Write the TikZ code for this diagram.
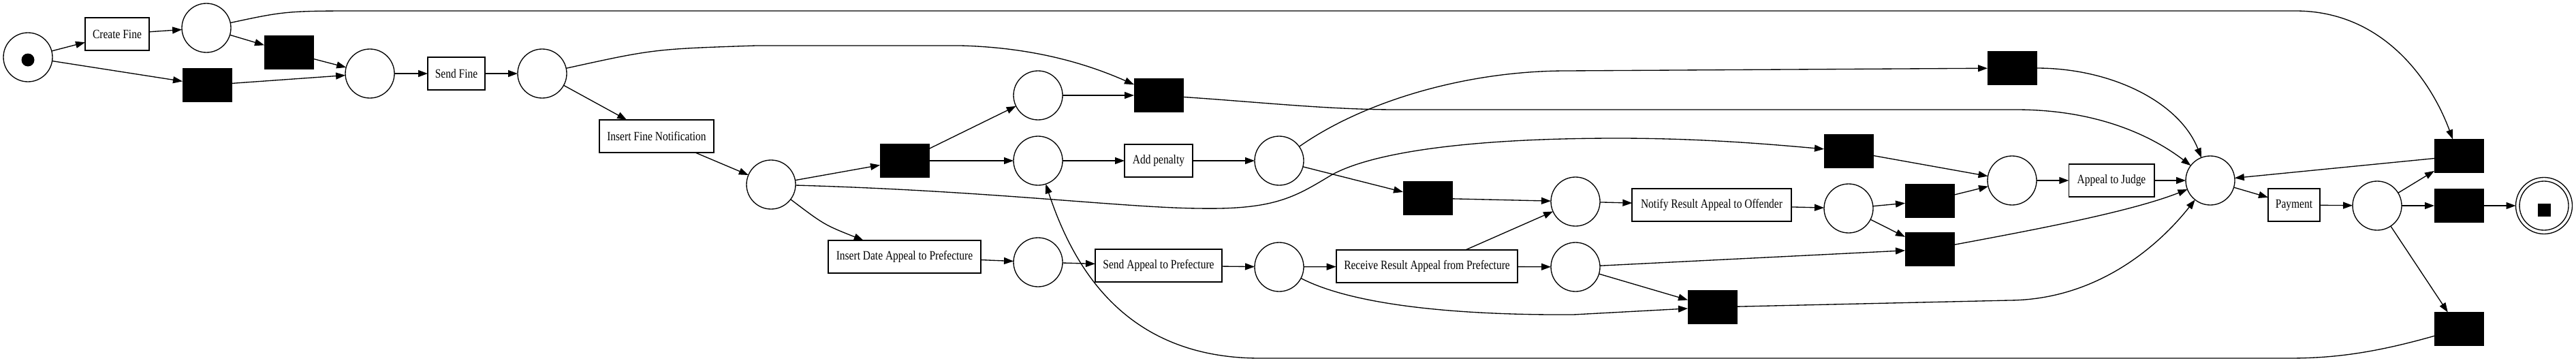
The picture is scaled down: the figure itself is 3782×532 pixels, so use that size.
\documentclass[tikz,border=0pt]{standalone}
\usepackage{fontspec}
\setmainfont{Liberation Serif}[FakeStretch=0.83]
\usetikzlibrary{arrows.meta}
\tikzset{
  place/.style={circle, draw, line width=1pt, minimum size=54pt, inner sep=0pt, outer sep=0pt},
  token/.style={circle, fill=black, minimum size=14.25pt, inner sep=0pt},
  trans/.style={rectangle, fill=black, draw=black, line width=0.5pt, minimum width=54pt, minimum height=36.75pt, inner sep=0pt, outer sep=0pt},
  task/.style={rectangle, draw, line width=1.3pt, minimum height=36pt, inner sep=0pt, outer sep=0pt, font=\fontsize{14}{16}\selectfont},
  arc/.style={-{Triangle[length=10.5pt,width=7.5pt]}, line width=1pt},
}
\begin{document}
\begin{tikzpicture}[x=0.75pt, y=-0.75pt]
\useasboundingbox (0,0) rectangle (3782,532);
% nodes
\node[place] (p0) at (41,84) {};
\node[token] (tok) at (41,88) {};
\node[task, minimum width=70.5pt] (cf) at (172,50) {Create Fine};
\node[place] (p1) at (303,41) {};
\node[trans] (ts1) at (424,77) {};
\node[trans] (ts2) at (304,125) {};
\node[place] (p2) at (543,108) {};
\node[task, minimum width=63pt] (sf) at (670,108) {Send Fine};
\node[place] (p3) at (796,108) {};
\node[task, minimum width=126pt] (ifn) at (964,200) {Insert Fine Notification};
\node[place] (p4) at (1132,271) {};
\node[trans] (t3) at (1328,236) {};
\node[place] (p5) at (1524,140) {};
\node[place] (p6) at (1524,236) {};
\node[trans] (t4) at (1701,140) {};
\node[task, minimum width=75pt] (ap) at (1701,236) {Add penalty};
\node[task, minimum width=168pt] (ida) at (1328,377) {Insert Date Appeal to Prefecture};
\node[place] (p7) at (1524,385) {};
\node[task, minimum width=139.5pt] (sap) at (1701,390) {Send Appeal to Prefecture};
\node[place] (p8) at (1878,236) {};
\node[place] (p9) at (1878,392) {};
\node[trans] (t5) at (2096,291) {};
\node[task, minimum width=200pt] (rra) at (2095,391) {Receive Result Appeal from Prefecture};
\node[place] (p10) at (2313,296) {};
\node[place] (p11) at (2313,392) {};
\node[task, minimum width=175pt] (nra) at (2513,301) {Notify Result Appeal to Offender};
\node[place] (p12) at (2714,306) {};
\node[trans] (t6) at (2714,222) {};
\node[trans] (t7) at (2514,451) {};
\node[trans] (t8) at (2954,100) {};
\node[place] (p13) at (2954,265) {};
\node[trans] (t9) at (2833,295) {};
\node[trans] (t10) at (2833,366) {};
\node[task, minimum width=94pt] (aj) at (3100,265) {Appeal to Judge};
\node[place] (p14) at (3245,265) {};
\node[task, minimum width=57pt] (pay) at (3368,301) {Payment};
\node[place] (p15) at (3490,302) {};
\node[trans] (t11) at (3610,229) {};
\node[trans] (t12) at (3610,302) {};
\node[trans] (t13) at (3610,483) {};
\node[place, minimum size=62.25pt] (pf) at (3735,302) {};
\node[place] (pfi) at (3735,302) {};
\node[rectangle, fill=black, minimum size=14.25pt, inner sep=0pt] (pfs) at (3735,308) {};
% arcs
\draw[arc] (p0) -- (cf);
\draw[arc] (p0) -- (ts2);
\draw[arc] (cf) -- (p1);
\draw[arc] (p1) -- (ts1);
\draw[arc] (p1) .. controls (420,16) .. (540,16) -- (3370,16) .. controls (3500,16) and (3570,120) .. (t11);
\draw[arc] (ts1) -- (p2);
\draw[arc] (ts2) -- (p2);
\draw[arc] (p2) -- (sf);
\draw[arc] (sf) -- (p3);
\draw[arc] (p3) -- (ifn);
\draw[arc] (p3) .. controls (960,72) .. (1110,67) -- (1410,67) .. controls (1530,70) and (1610,100) .. (t4);
\draw[arc] (ifn) -- (p4);
\draw[arc] (p4) -- (t3);
\draw[arc] (p4) .. controls (1210,330) .. (ida);
\draw[arc] (p4) .. controls (1450,280) and (1650,305) .. (1760,306) .. controls (1870,308) and (1900,290) .. (1953,258) .. controls (2010,225) and (2150,203) .. (2374,203) .. controls (2500,203) and (2600,212) .. (t6);
\draw[arc] (t3) -- (p5);
\draw[arc] (t3) -- (p6);
\draw[arc] (p5) -- (t4);
\draw[arc] (t4) .. controls (1850,150) and (1950,161) .. (2050,161) -- (2960,161) .. controls (3080,161) and (3160,200) .. (p14);
\draw[arc] (p6) -- (ap);
\draw[arc] (ap) -- (p8);
\draw[arc] (p8) .. controls (2000,150) and (2150,104) .. (2300,104) -- (t8);
\draw[arc] (p8) -- (t5);
\draw[arc] (t5) -- (p10);
\draw[arc] (t8) .. controls (3100,100) and (3200,150) .. (p14);
\draw[arc] (ida) -- (p7);
\draw[arc] (p7) -- (sap);
\draw[arc] (sap) -- (p9);
\draw[arc] (t13) .. controls (3480,520) and (3420,526) .. (3360,526) -- (1850,526) .. controls (1650,526) and (1575,390) .. (p6);
\draw[arc] (p9) -- (rra);
\draw[arc] (p9) .. controls (1990,450) and (2150,463) .. (2310,462) -- (t7);
\draw[arc] (rra.23) -- (p10);
\draw[arc] (rra) -- (p11);
\draw[arc] (p11) -- (t10);
\draw[arc] (p11) -- (t7);
\draw[arc] (p10) -- (nra);
\draw[arc] (nra) -- (p12);
\draw[arc] (p12) -- (t9);
\draw[arc] (p12) -- (t10);
\draw[arc] (t6) -- (p13);
\draw[arc] (t9) -- (p13);
\draw[arc] (p13) -- (aj);
\draw[arc] (aj) -- (p14);
\draw[arc] (t10) .. controls (3000,335) and (3130,310) .. (p14);
\draw[arc] (t7) -- (2950,441) .. controls (3080,440) and (3170,360) .. (p14);
\draw[arc] (p14) -- (pay);
\draw[arc] (pay) -- (p15);
\draw[arc] (p15) -- (t11);
\draw[arc] (p15) -- (t12);
\draw[arc] (p15) -- (t13);
\draw[arc] (t11) -- (p14);
\draw[arc] (t12) -- (pf);
\end{tikzpicture}
\end{document}
